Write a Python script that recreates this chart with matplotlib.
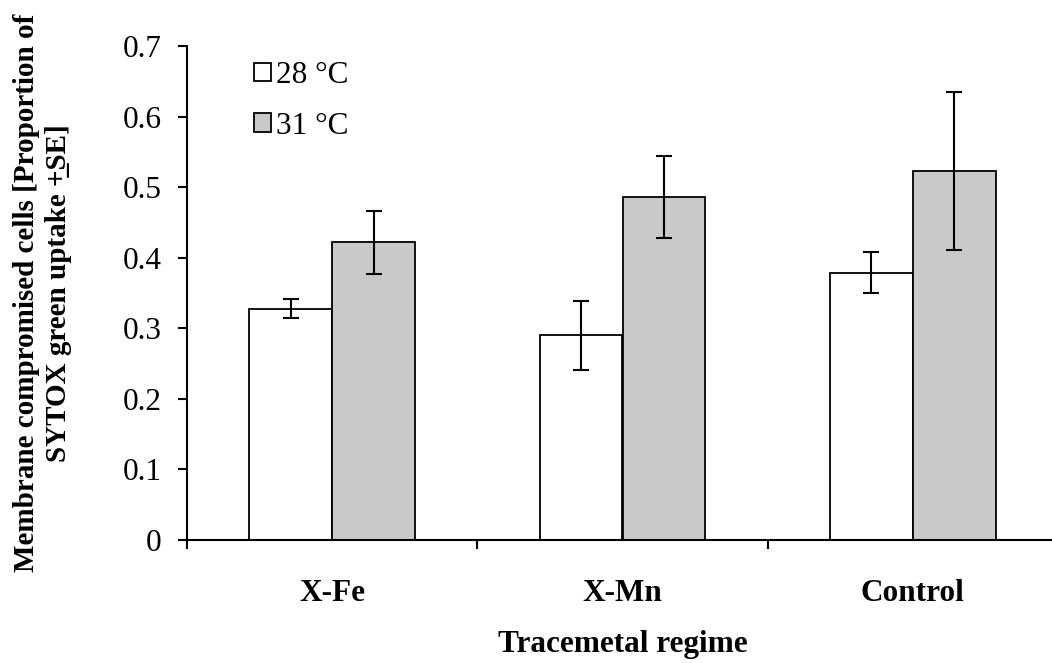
import matplotlib
matplotlib.use("Agg")
import matplotlib.pyplot as plt
import numpy as np

# Data
regimes = ["X-Fe", "X-Mn", "Control"]
temps = ["28 \u00b0C", "31 \u00b0C"]
mean_28 = [0.328, 0.290, 0.379]
se_28 = [0.014, 0.049, 0.029]
mean_31 = [0.422, 0.486, 0.523]
se_31 = [0.045, 0.058, 0.112]
yticks = [0, 0.1, 0.2, 0.3, 0.4, 0.5, 0.6, 0.7]
ytick_labels = ["0", "0.1", "0.2", "0.3", "0.4", "0.5", "0.6", "0.7"]

plt.rcParams["font.family"] = ["Liberation Serif", "DejaVu Serif"]

W, H = 1052, 663
fig = plt.figure(figsize=(W / 100, H / 100), dpi=100)
ax = fig.add_axes([187.3 / W, 1 - 539.8 / H, 870.4 / W, 493.5 / H])

x = np.arange(len(regimes))
bw = 0.286
err_kw = dict(elinewidth=1.5, capsize=5.5, capthick=1.5, ecolor="black")
b1 = ax.bar(x - bw / 2, mean_28, bw, yerr=se_28, color="white",
            edgecolor="black", linewidth=1.3, error_kw=err_kw, label=temps[0])
b2 = ax.bar(x + bw / 2, mean_31, bw, yerr=se_31, color="#c9c9c9",
            edgecolor="black", linewidth=1.3, error_kw=err_kw, label=temps[1])

ax.set_xlim(-0.5, 2.5)
ax.set_ylim(0, 0.7)

for s in ["top", "right"]:
    ax.spines[s].set_visible(False)
for s in ["left", "bottom"]:
    ax.spines[s].set_linewidth(1.5)

ax.set_yticks(yticks)
ax.set_yticklabels(ytick_labels, fontsize=22.5)
ax.tick_params(axis="y", direction="out", length=6.5, width=1.5, pad=12)

ax.set_xticks(x)
ax.set_xticklabels(regimes, fontsize=22.5, fontweight="bold")
ax.set_xticks([-0.5, 0.5, 1.5, 2.5], minor=True)
ax.tick_params(axis="x", which="major", length=0, pad=28)
ax.tick_params(axis="x", which="minor", direction="out", length=6.5, width=1.5)

ax.set_xlabel("Tracemetal regime", fontsize=22.5, fontweight="bold", labelpad=16)
ax.set_ylabel("Membrane compromised cells [Proportion of\nSYTOX green uptake +\u0332SE]",
              fontsize=21, fontweight="bold", linespacing=1.25)
ax.yaxis.set_label_coords(-0.132, 0.5)

leg = ax.legend(handles=[b1, b2], loc="upper left", bbox_to_anchor=(254 / W, 1 - 61 / H),
                bbox_transform=fig.transFigure, frameon=False, fontsize=22.5,
                handlelength=0.55, handleheight=0.55, handletextpad=0.15,
                labelspacing=0.7, borderpad=0, borderaxespad=0)

fig.savefig("out.png", dpi=100)
